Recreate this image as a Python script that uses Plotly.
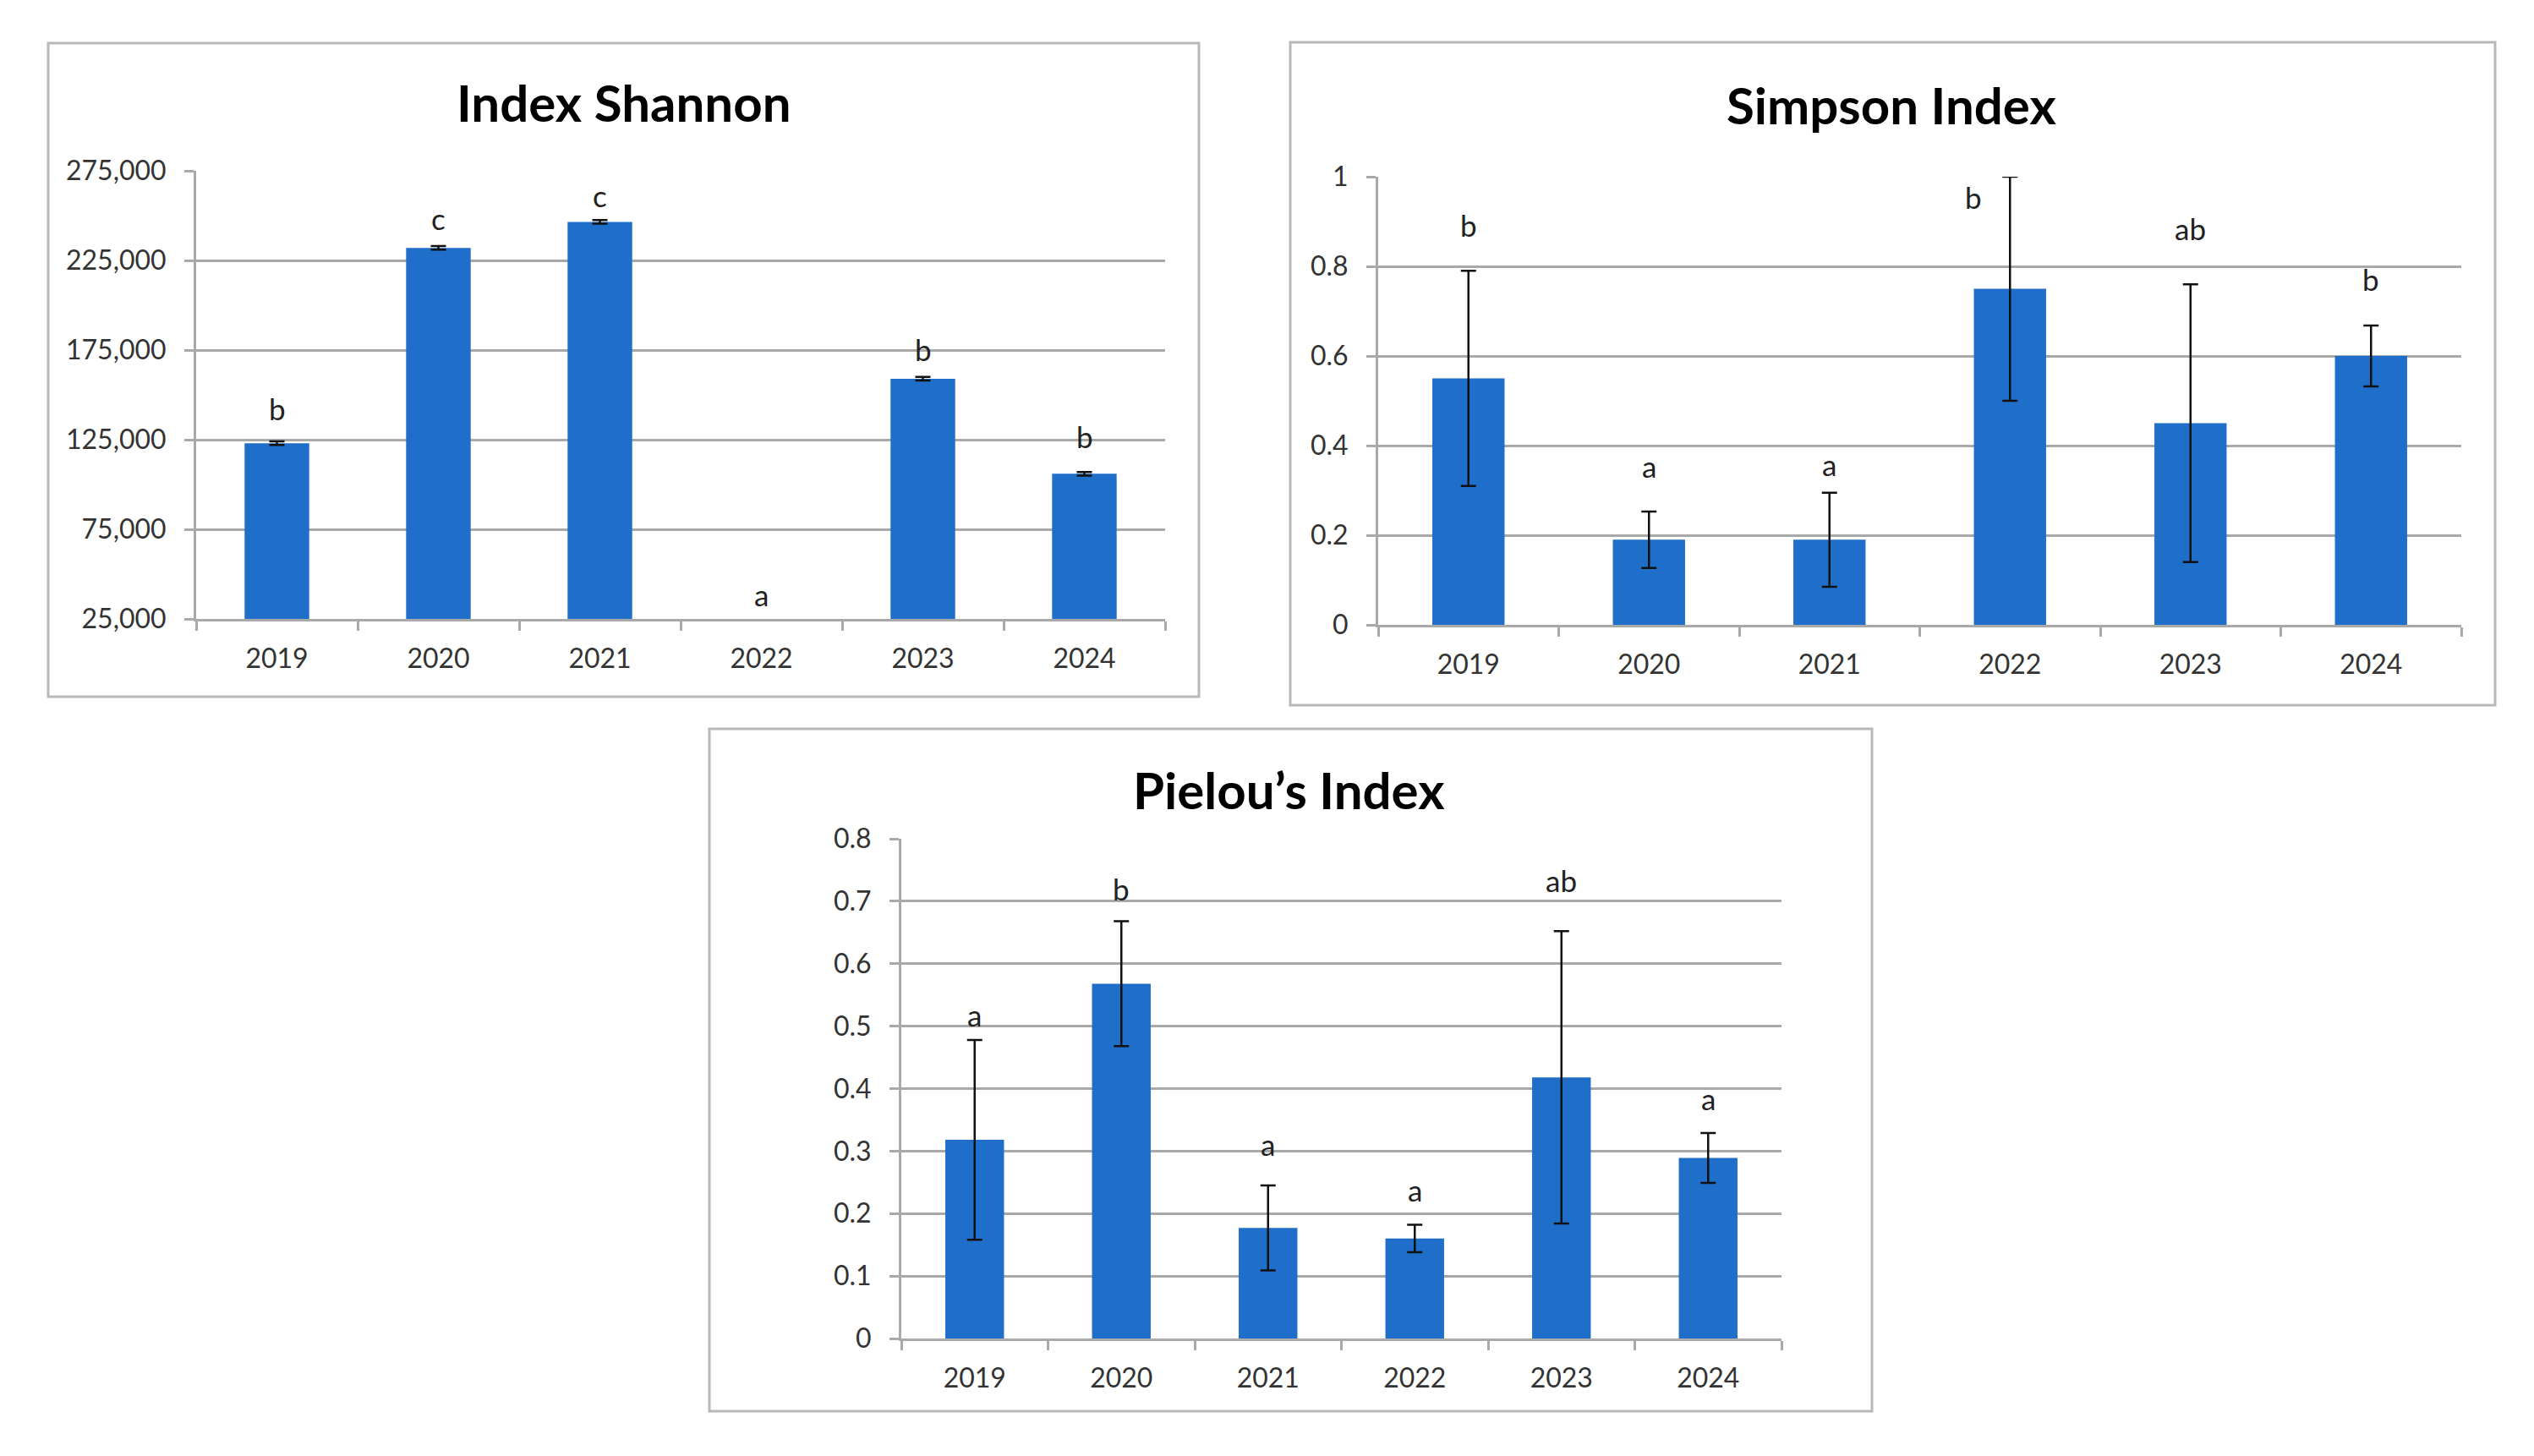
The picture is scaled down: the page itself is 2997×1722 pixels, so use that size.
import plotly.graph_objects as go

# ---------------- data ----------------
years = ["2019", "2020", "2021", "2022", "2023", "2024"]

shannon_values = [123000, 232000, 246500, 0, 159000, 106000]
shannon_errors = [1000, 1000, 1000, 0, 1000, 1000]
shannon_letters = ["b", "c", "c", "a", "b", "b"]
shannon_letter_y = [140000, 246000, 259000, 36500, 173000, 124700]

simpson_values = [0.55, 0.19, 0.19, 0.75, 0.45, 0.60]
simpson_errors = [0.24, 0.063, 0.105, 0.25, 0.31, 0.068]
simpson_letters = ["b", "a", "a", "b", "ab", "b"]
simpson_letter_y = [0.883, 0.345, 0.350, 0.945, 0.875, 0.762]
simpson_letter_shift = [0, 0, 0, -43, 0, 0]

pielou_values = [0.318, 0.568, 0.177, 0.160, 0.418, 0.289]
pielou_errors = [0.16, 0.10, 0.068, 0.022, 0.234, 0.04]
pielou_letters = ["a", "b", "a", "a", "ab", "a"]
pielou_letter_y = [0.512, 0.714, 0.304, 0.232, 0.727, 0.378]

titles = ["Index Shannon", "Simpson Index", "Pielou\u2019s Index"]

# ---------------- layout constants (pixels of the 2997x1722 canvas) ----------------
W, H = 2997, 1722
BAR = "#1F6FCA"
GRID = "#A9A9A9"
TXT = "#333333"
FONT = "Lato"

def fx(px):
    return px / W

def fy(py):
    return 1 - py / H

panels = [
    dict(plot=(232, 1378, 202, 732), box=(57, 1418, 51, 824), title=(738, 121)),
    dict(plot=(1630, 2911, 209, 739), box=(1526, 2951, 50, 834), title=(2237, 124)),
    dict(plot=(1066, 2107, 992, 1583), box=(839, 2214, 862, 1669), title=(1524, 934)),
]

series = [
    (shannon_values, shannon_errors, shannon_letters, shannon_letter_y, [0] * 6,
     [25000, 275000], 50000, ",d"),
    (simpson_values, simpson_errors, simpson_letters, simpson_letter_y, simpson_letter_shift,
     [0, 1], 0.2, None),
    (pielou_values, pielou_errors, pielou_letters, pielou_letter_y, [0] * 6,
     [0, 0.8], 0.1, None),
]

fig = go.Figure()
annotations = []
shapes = []
layout_axes = {}

for i, (panel, (vals, errs, letters, ly, lshift, yr, dt, fmt)) in enumerate(zip(panels, series)):
    n = "" if i == 0 else str(i + 1)
    xa, ya = "x" + n, "y" + n
    fig.add_trace(go.Bar(
        x=years, y=vals, xaxis=xa, yaxis=ya, width=0.4,
        marker=dict(color=BAR, line=dict(width=0)),
        error_y=dict(type="data", array=errs, visible=True, color="#111111",
                     thickness=2.5, width=9),
        showlegend=False, hoverinfo="x+y",
    ))
    x0, x1, y0, y1 = panel["plot"]
    axis_common = dict(linecolor=GRID, linewidth=3, showline=True,
                       tickcolor=GRID, tickwidth=3, ticks="outside", ticklen=11,
                       tickfont=dict(family=FONT, size=32, color=TXT),
                       automargin=False)
    layout_axes["xaxis" + n] = dict(
        domain=[fx(x0), fx(x1)], anchor=ya, type="category",
        tickson="boundaries", showgrid=False, ticklabelstandoff=17,
        range=[-0.5, 5.5], fixedrange=True, **axis_common)
    yax = dict(
        domain=[fy(y1), fy(y0)], anchor=xa, range=yr, dtick=dt, tick0=yr[0],
        showgrid=True, gridcolor=GRID, gridwidth=3, zeroline=False,
        ticklabelstandoff=15, fixedrange=True, **axis_common)
    if fmt:
        yax["tickformat"] = fmt
    layout_axes["yaxis" + n] = yax

    for k, (yv, lt, ls) in enumerate(zip(ly, letters, lshift)):
        annotations.append(dict(
            x=k, y=yv, xref=xa, yref=ya, text=lt, showarrow=False,
            xanchor="center", yanchor="middle", xshift=ls, yshift=5,
            font=dict(family=FONT, size=35, color="#222222")))

    bx0, bx1, by0, by1 = panel["box"]
    shapes.append(dict(type="rect", xref="paper", yref="paper",
                       x0=fx(bx0), x1=fx(bx1), y0=fy(by1), y1=fy(by0),
                       line=dict(color="#B8B8B8", width=3), fillcolor="rgba(0,0,0,0)",
                       layer="below"))
    tx, ty = panel["title"]
    annotations.append(dict(
        x=fx(tx), y=fy(ty), xref="paper", yref="paper", text="<b>%s</b>" % titles[i],
        showarrow=False, xanchor="center", yanchor="middle",
        font=dict(family=FONT, size=60, color="#000000")))

fig.update_layout(
    width=W, height=H,
    margin=dict(l=0, r=0, t=0, b=0, pad=0, autoexpand=False),
    paper_bgcolor="white", plot_bgcolor="white",
    annotations=annotations, shapes=shapes, bargap=0.6,
    **layout_axes,
)

fig.write_html("out.html", config={"displayModeBar": False},
               post_script="document.body.style.margin='0';")
